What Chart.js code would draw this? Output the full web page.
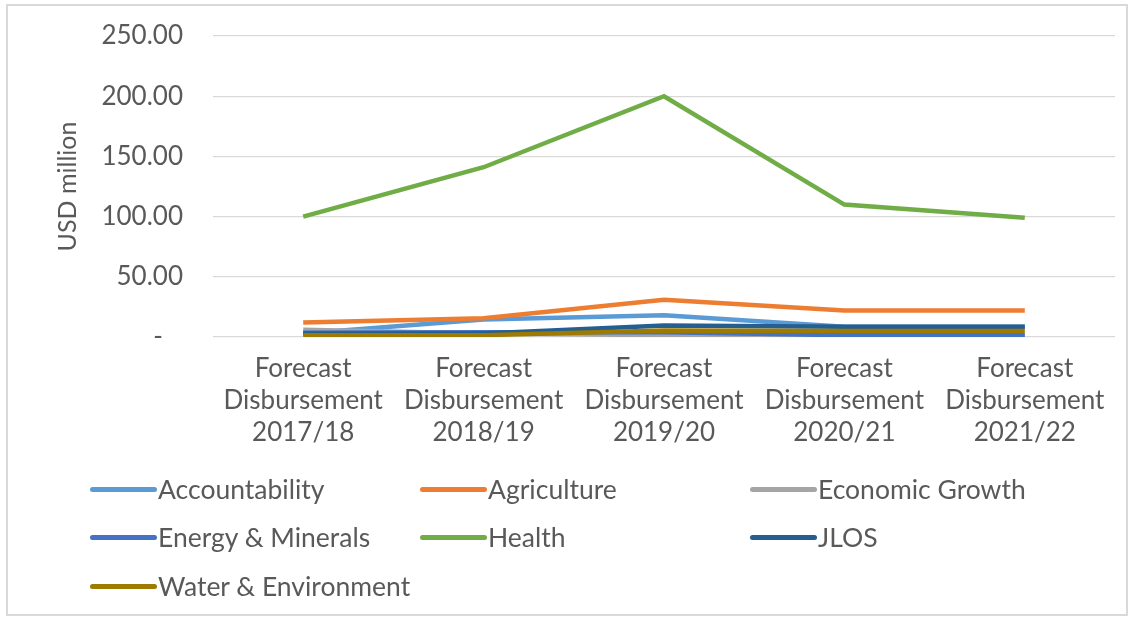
<!DOCTYPE html>
<html>
<head>
<meta charset="utf-8">
<script src="https://cdn.jsdelivr.net/npm/chart.js@4/dist/chart.umd.min.js"></script>
<style>
  body { margin: 0; background: #fff; font-family: Lato, "Open Sans", sans-serif; }
  #wrap { position: relative; width: 1139px; height: 621px; }
  #frame { position: absolute; left: 6px; top: 4px; width: 1122px; height: 612px; border: 2px solid #d9d9d9; box-sizing: border-box; }
  #chart-box { position: absolute; left: 0; top: 0; width: 1139px; height: 460px; }
  #legend { position: absolute; left: 0; top: 0; width: 1139px; height: 621px; pointer-events: none; }
  .item { position: absolute; display: flex; align-items: center; font-size: 26.5px; color: #595959; height: 30px; }
  .swatch { width: 67px; height: 5px; border-radius: 3px; margin-right: 1px; }
</style>
</head>
<body>
<div id="wrap">
  <div id="frame"></div>
  <div id="chart-box"><canvas id="chart"></canvas></div>
  <div id="legend"></div>
</div>
<script>
const categories = ['2017/18', '2018/19', '2019/20', '2020/21', '2021/22'];
const seriesNames = ['Accountability', 'Agriculture', 'Economic Growth', 'Energy & Minerals', 'Health', 'JLOS', 'Water & Environment'];
const accountability = [3, 14.5, 18, 8.5, 8.5];
const agriculture = [12, 15.5, 31, 22, 22];
const economicGrowth = [6, 3, 1.5, 0.5, 0.5];
const energyMinerals = [3.5, 4, 4, 1.5, 1.5];
const health = [100, 141, 200, 110, 99];
const jlos = [3, 3, 9.5, 8.5, 8.5];
const waterEnvironment = [1.5, 1.5, 5.5, 5, 5];
const yTicks = [0, 50, 100, 150, 200, 250];

const colors = ['#5b9bd5', '#ed7d31', '#a5a5a5', '#4472c4', '#70ad47', '#255e91', '#9e7a00'];
const values = [accountability, agriculture, economicGrowth, energyMinerals, health, jlos, waterEnvironment];
const FONT_SIZE = 26;

const datasets = seriesNames.map((name, i) => ({
  label: name,
  data: values[i],
  borderColor: colors[i],
  backgroundColor: colors[i],
  borderWidth: 4.5,
  pointRadius: 0,
  tension: 0,
  order: seriesNames.length - i,
}));

const chart = new Chart(document.getElementById('chart'), {
  type: 'line',
  data: {
    labels: categories.map((c) => ['Forecast', 'Disbursement', c]),
    datasets,
  },
  options: {
    responsive: true,
    maintainAspectRatio: false,
    animation: false,
    layout: { padding: { left: 49, right: 24, top: 36, bottom: 0 } },
    plugins: { legend: { display: false }, tooltip: { enabled: false } },
    scales: {
      x: {
        offset: true,
        grid: { display: false, drawTicks: false },
        border: { display: false },
        ticks: {
          color: '#595959',
          font: { family: 'Lato', size: FONT_SIZE, lineHeight: 32 / FONT_SIZE },
          padding: 16,
          maxRotation: 0,
        },
        afterFit: (scale) => { scale.height = 123; },
      },
      y: {
        min: yTicks[0],
        max: yTicks[yTicks.length - 1],
        afterBuildTicks: (scale) => { scale.ticks = yTicks.map((v) => ({ value: v })); },
        grid: { color: '#d9d9d9', lineWidth: 1.2, drawTicks: false },
        border: { display: false },
        ticks: {
          color: '#595959',
          font: { family: 'Lato', size: FONT_SIZE },
          padding: 30,
          callback: (v) => (v === 0 ? '-   ' : v.toFixed(2)),
        },
        title: {
          display: true,
          text: 'USD million',
          color: '#595959',
          font: { family: 'Lato', size: 25 },
          padding: { top: 4, bottom: 4 },
        },
        afterFit: (scale) => {
          scale.width = 213 - 49;
          scale.paddingTop = 0;
          scale.paddingBottom = 0;
        },
      },
    },
  },
});

// legend laid out in three columns like the original
const legendEl = document.getElementById('legend');
const colX = [90, 420, 750];
const rowY = [474, 522, 571];
seriesNames.forEach((name, i) => {
  const item = document.createElement('div');
  item.className = 'item';
  item.style.left = colX[i % 3] + 'px';
  item.style.top = rowY[Math.floor(i / 3)] + 'px';
  item.innerHTML = `<span class="swatch" style="background:${colors[i]}"></span><span>${name.replace('&', '&amp;')}</span>`;
  legendEl.appendChild(item);
});
</script>
</body>
</html>
